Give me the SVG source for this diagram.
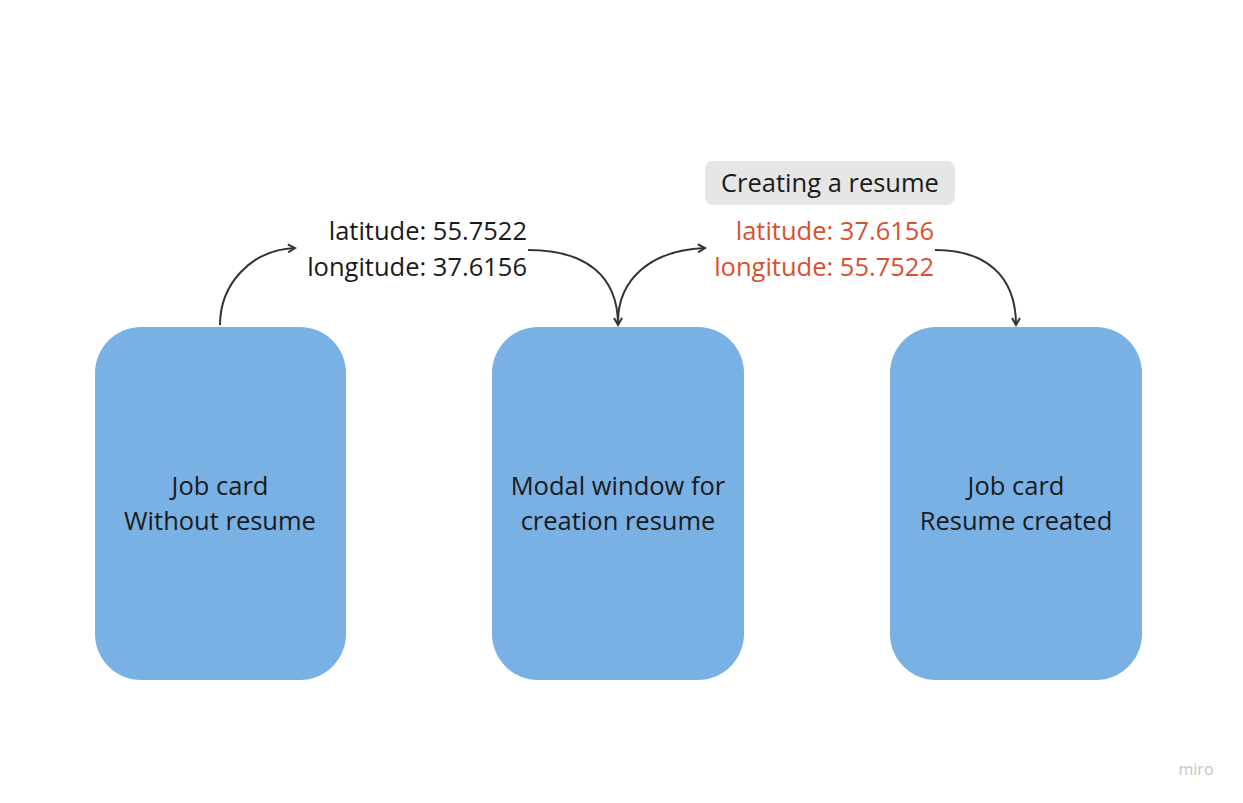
<svg xmlns="http://www.w3.org/2000/svg" width="1243" height="803" viewBox="0 0 1243 803">
<defs>
<style>
.n{fill:#7AB1E4}
.t{font-family:"Open Sans",sans-serif;font-size:25.5px;fill:#1a1a1a}
.r{fill:#D9502F}
.c{fill:none;stroke:#333;stroke-width:2}
</style>
<marker id="a" viewBox="0 0 10 10" refX="8" refY="5" markerWidth="10" markerHeight="10" markerUnits="userSpaceOnUse" orient="auto"><path d="M1,1 L8,5 L1,9" fill="none" stroke="#333" stroke-width="2"/></marker>
</defs>
<rect width="1243" height="803" fill="#fff"/>
<g id="node1"><rect class="n" x="95" y="327" width="251" height="353" rx="46"/>
<text class="t" text-anchor="middle" x="220" y="495">Job card</text><text class="t" text-anchor="middle" x="220" y="530">Without resume</text></g>
<g id="node2"><rect class="n" x="492" y="327" width="252" height="353" rx="46"/>
<text class="t" text-anchor="middle" x="618" y="495">Modal window for</text><text class="t" text-anchor="middle" x="618" y="530">creation resume</text></g>
<g id="node3"><rect class="n" x="890" y="327" width="252" height="353" rx="46"/>
<text class="t" text-anchor="middle" x="1016" y="495">Job card</text><text class="t" text-anchor="middle" x="1016" y="530">Resume created</text></g>
<g id="label1"><text class="t" text-anchor="end" x="527" y="240">latitude: 55.7522</text><text class="t" text-anchor="end" x="527" y="276">longitude: 37.6156</text></g>
<g id="label2"><rect x="705" y="161" width="250" height="44" rx="8" fill="#E6E6E6"/>
<text class="t" text-anchor="middle" x="830" y="192">Creating a resume</text>
<text class="t r" text-anchor="end" x="934" y="240">latitude: 37.6156</text><text class="t r" text-anchor="end" x="934" y="276">longitude: 55.7522</text></g>
<g id="connectors">
<path class="c" marker-end="url(#a)" d="M220,325 C220,285 250,250 295,248"/>
<path class="c" marker-end="url(#a)" d="M528,250 C585,250 618,275 618,325"/>
<path class="c" marker-end="url(#a)" d="M618,322 C618,280 650,250 705,248"/>
<path class="c" marker-end="url(#a)" d="M935,250 C985,250 1016,275 1016,325"/>
</g>
<text x="1196" y="775" text-anchor="middle" style="font-family:'Open Sans',sans-serif;font-size:16px;fill:#c4c4c4">miro</text>
</svg>
